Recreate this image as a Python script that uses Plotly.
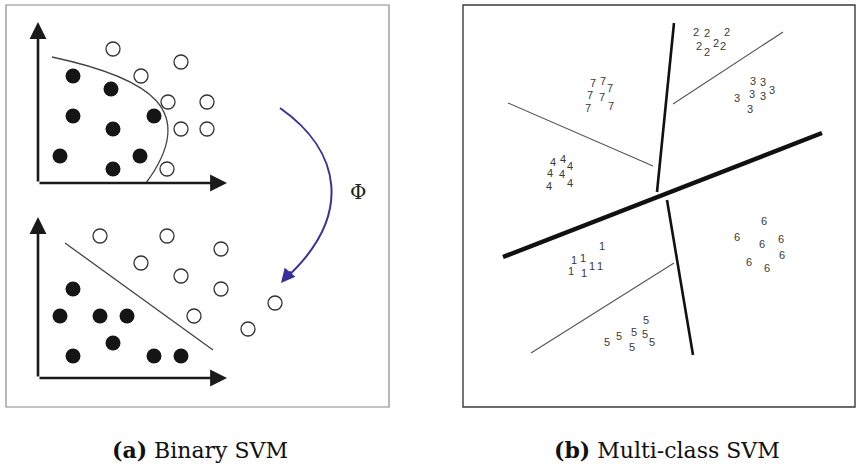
import plotly.graph_objects as go

W, H = 856, 467

# ---- (a) Binary SVM: input space (top) ----
top_neg_x = [73, 111, 73, 113, 154, 60, 140, 113]
top_neg_y = [76, 89, 116, 129, 116, 156, 156, 169]
top_pos_x = [113, 181, 141, 168, 207, 181, 207, 167]
top_pos_y = [49, 62, 76, 102, 102, 129, 129, 169]
# non-linear boundary (cubic bezier control points)
curve_pts = [(52, 57), (150, 78), (200, 110), (146, 183)]

# ---- (a) feature space (bottom) ----
bot_neg_x = [73, 60, 100, 127, 113, 73, 154, 181]
bot_neg_y = [289, 316, 316, 316, 343, 356, 356, 356]
bot_pos_x = [100, 167, 221, 141, 181, 221, 194, 275, 248]
bot_pos_y = [236, 236, 249, 263, 276, 289, 316, 303, 329]
lin_boundary = [(65, 243), (213, 350)]

# axes of the two small plots: origin, x-end, y-end
axes_sets = [((38, 183), 227, 22), ((38, 378), 227, 217)]

# mapping arrow Phi
phi_path = [(280, 108), (340, 150), (355, 215), (285, 279)]
phi_head = ((292, 270), (281, 283))
phi_label = (358, 192)

# ---- (b) Multi-class SVM ----
sep_lines = [  # (x0, y0, x1, y1, width)
    (503, 257, 822, 133, 4.5),
    (674, 23, 657, 192, 2.6),
    (667, 200, 693, 355, 2.6),
    (508, 103, 653, 166, 1.1),
    (673, 104, 783, 32, 1.1),
    (674, 263, 531, 353, 1.1),
]

digit_groups = {
    "1": ([602, 574, 583, 571, 584, 592, 600], [247, 261, 259, 272, 274, 267, 267]),
    "2": ([696, 707, 727, 699, 707, 716, 723], [33, 34, 33, 47, 53, 44, 47]),
    "3": ([753, 763, 772, 737, 752, 763, 750], [82, 83, 91, 99, 95, 97, 110]),
    "4": ([553, 563, 570, 550, 562, 549, 570], [163, 160, 167, 174, 175, 187, 184]),
    "5": ([646, 607, 619, 634, 645, 652, 632], [321, 343, 337, 333, 335, 343, 348]),
    "6": ([764, 737, 762, 781, 782, 749, 767], [222, 238, 245, 240, 256, 263, 269]),
    "7": ([593, 603, 610, 590, 602, 588, 611], [84, 82, 89, 96, 98, 109, 107]),
}

captions = [("<b>(a)</b> Binary SVM", 200), ("<b>(b)</b> Multi-class SVM", 667)]
caption_y = 450

fig = go.Figure()
shapes = []
annotations = []

# panel frames
shapes.append(dict(type="rect", x0=6, y0=5, x1=389, y1=407,
                   line=dict(color="#8a8a8a", width=1.2), layer="below"))
shapes.append(dict(type="rect", x0=463, y0=5, x1=855, y1=407,
                   line=dict(color="#3a3a3a", width=1.4), layer="below"))

# coordinate axes with arrowheads
for (ox, oy), xend, yend in axes_sets:
    for (tx, ty) in [(xend, oy), (ox, yend)]:
        annotations.append(dict(x=tx, y=ty, ax=ox, ay=oy, xref="x", yref="y",
                                axref="x", ayref="y", text="", showarrow=True,
                                arrowhead=2, arrowsize=1.3, arrowwidth=2.6,
                                arrowcolor="#1a1a1a", standoff=0, startstandoff=0))

# non-linear boundary curve
(p0, p1, p2, p3) = curve_pts
shapes.append(dict(type="path",
                   path=f"M {p0[0]},{p0[1]} C {p1[0]},{p1[1]} {p2[0]},{p2[1]} {p3[0]},{p3[1]}",
                   line=dict(color="#444444", width=1.3)))
shapes.append(dict(type="line", x0=lin_boundary[0][0], y0=lin_boundary[0][1],
                   x1=lin_boundary[1][0], y1=lin_boundary[1][1],
                   line=dict(color="#444444", width=1.3)))

# Phi mapping arrow
(q0, q1, q2, q3) = phi_path
shapes.append(dict(type="path",
                   path=f"M {q0[0]},{q0[1]} C {q1[0]},{q1[1]} {q2[0]},{q2[1]} {q3[0]},{q3[1]}",
                   line=dict(color="#3b2f9c", width=2)))
annotations.append(dict(x=phi_head[1][0], y=phi_head[1][1], ax=phi_head[0][0], ay=phi_head[0][1],
                        xref="x", yref="y", axref="x", ayref="y", text="", showarrow=True,
                        arrowhead=2, arrowsize=1.4, arrowwidth=2, arrowcolor="#3b2f9c",
                        standoff=0))
annotations.append(dict(x=phi_label[0], y=phi_label[1], xref="x", yref="y", text="Φ",
                        showarrow=False, font=dict(family="DejaVu Serif", size=20, color="#222")))

# separating lines of the multi-class panel
for x0, y0, x1, y1, w in sep_lines:
    shapes.append(dict(type="line", x0=x0, y0=y0, x1=x1, y1=y1,
                       line=dict(color="#111111" if w > 2 else "#555555", width=w)))

# data points of the binary example
for xs, ys in [(top_neg_x, top_neg_y), (bot_neg_x, bot_neg_y)]:
    fig.add_trace(go.Scatter(x=xs, y=ys, mode="markers",
                             marker=dict(size=15, color="#151515", line=dict(width=0))))
for xs, ys in [(top_pos_x, top_pos_y), (bot_pos_x, bot_pos_y)]:
    fig.add_trace(go.Scatter(x=xs, y=ys, mode="markers",
                             marker=dict(size=14, color="white", line=dict(width=1.3, color="#333333"))))

# class labels of the multi-class example
for label, (xs, ys) in digit_groups.items():
    fig.add_trace(go.Scatter(x=xs, y=ys, mode="text", text=[label] * len(xs),
                             textfont=dict(family="Liberation Sans", size=11, color="#3a3a3a")))

# captions
for text, cx in captions:
    annotations.append(dict(x=cx, y=caption_y, xref="x", yref="y", text=text, showarrow=False,
                            font=dict(family="DejaVu Serif", size=22, color="#111")))

fig.update_layout(
    width=W, height=H, margin=dict(l=0, r=0, t=0, b=0),
    paper_bgcolor="white", plot_bgcolor="white", showlegend=False,
    xaxis=dict(range=[0, W], visible=False, fixedrange=True),
    yaxis=dict(range=[H, 0], visible=False, fixedrange=True),
    shapes=shapes, annotations=annotations,
)

fig.write_html("out.html", config={"displayModeBar": False})
